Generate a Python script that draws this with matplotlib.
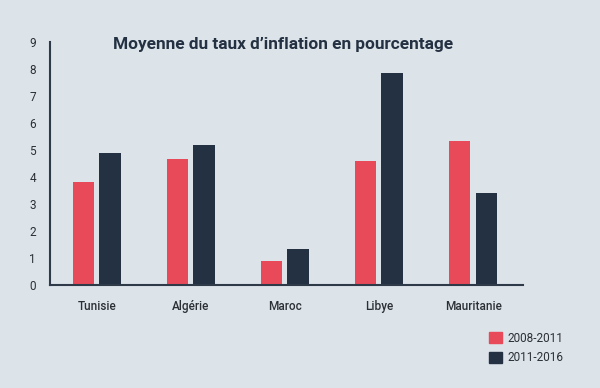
import matplotlib.pyplot as plt
import numpy as np
from matplotlib.patches import Patch

plt.rcParams['font.family'] = ['Roboto', 'DejaVu Sans']

pays = ['Tunisie', 'Algérie', 'Maroc', 'Libye', 'Mauritanie']
periode_1 = [3.8, 4.65, 0.9, 4.6, 5.35]
periode_2 = [4.9, 5.2, 1.35, 7.85, 3.4]
legendes = ['2008-2011', '2011-2016']

bg = '#dce3e9'
rouge = '#e84a59'
sombre = '#243142'
texte = '#2b2f36'

fig = plt.figure(figsize=(6, 3.88), dpi=100, facecolor=bg)
ax = fig.add_axes([50/600, 1 - 285/388, 473/600, 243/388])
ax.set_facecolor(bg)

x = np.arange(len(pays))
w = 0.23
ax.bar(x - 0.145, periode_1, width=w, color=rouge, zorder=2)
ax.bar(x + 0.14, periode_2, width=w, color=sombre, zorder=2)

ax.set_xlim(-0.5, 4.53)
ax.set_ylim(0, 9)
ax.set_yticks(range(10))
ax.set_xticks(x)
ax.set_xticklabels(pays, fontweight='medium', fontsize=8.2)
ax.tick_params(length=0, colors=texte, labelsize=8.5)
ax.tick_params(axis='y', pad=10)
ax.tick_params(axis='x', pad=11)
for s in ['top', 'right']:
    ax.spines[s].set_visible(False)
for s in ['left', 'bottom']:
    ax.spines[s].set_color('#2f3a48')
    ax.spines[s].set_linewidth(1.5)

fig.text(113/600, 1 - 45/388, 'Moyenne du taux d\u2019inflation en pourcentage',
         fontsize=12.4, fontweight='bold', color=sombre, va='center', ha='left')

handles = [Patch(color=rouge), Patch(color=sombre)]
fig.legend(handles, legendes, loc='center left', bbox_to_anchor=(478/600, 1 - 348/388),
           frameon=False, fontsize=8.5, handlelength=1.1, handleheight=1.1,
           handletextpad=0.5, labelspacing=0.55, labelcolor=texte)

fig.savefig('out.png', dpi=100, facecolor=bg)
